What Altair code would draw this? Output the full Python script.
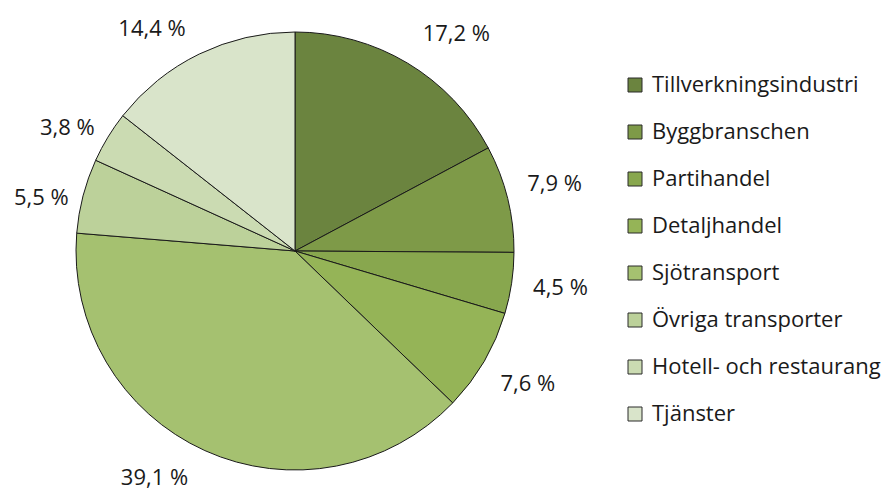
import altair as alt
import pandas as pd

categories = ["Tillverkningsindustri", "Byggbranschen", "Partihandel", "Detaljhandel",
              "Sjötransport", "Övriga transporter", "Hotell- och restaurang", "Tjänster"]
values = [17.2, 7.9, 4.5, 7.6, 39.1, 5.5, 3.8, 14.4]
colors = ["#6B843F", "#7E9A48", "#88A74E", "#95B457", "#A5C170", "#BCD19A", "#CBDBB2", "#D9E4CA"]

df = pd.DataFrame({
    "kategori": categories,
    "andel": values,
    "ordning": list(range(len(categories))),
    "etikett": [f"{v:.1f} %".replace(".", ",") for v in values],
})

FONT = "Open Sans"
FS = 22
CX, CY = 287, 243

base = alt.Chart(df).encode(
    theta=alt.Theta("andel:Q", stack=True),
    order=alt.Order("ordning:Q"),
)

pie = base.mark_arc(outerRadius=219, stroke="#1a1a1a", strokeWidth=1).encode(
    x=alt.value(CX),
    y=alt.value(CY),
    color=alt.Color(
        "kategori:N",
        scale=alt.Scale(domain=categories, range=colors),
        sort=categories,
        legend=alt.Legend(
            title=None,
            orient="none",
            legendX=616,
            legendY=66,
            symbolType="square",
            symbolSize=196,
            symbolStrokeColor="#2a2a2a",
            symbolStrokeWidth=1,
            labelFont=FONT,
            labelFontSize=FS,
            labelColor="#1a1a1a",
            labelLimit=300,
            rowPadding=25,
            labelOffset=6,
        ),
    ),
)


def label_layer(cond, theta_offset=0.0, radius=266):
    return base.transform_calculate(
        lbl=f"({cond}) ? datum.etikett : ''"
    ).mark_text(
        radius=radius, thetaOffset=theta_offset, font=FONT, fontSize=FS, color="#1a1a1a"
    ).encode(
        x=alt.value(CX),
        y=alt.value(CY),
        text="lbl:N",
    )


labels_right = label_layer("datum.andel < 10 && datum.ordning < 4", -0.01, 268)
labels_left = label_layer("datum.andel < 10 && datum.ordning >= 4", -0.05, 259)
labels_a = label_layer("datum.andel >= 15 && datum.andel < 30", 0.10, 270)
labels_b = label_layer("datum.andel >= 10 && datum.andel < 15", -0.12, 264)
labels_c = label_layer("datum.andel >= 30", 0.13, 267)

chart = alt.layer(pie, labels_right, labels_left, labels_a, labels_b, labels_c).properties(
    width=875, height=482, padding=0,
    autosize=alt.AutoSizeParams(type="none"),
    background="white",
).configure_view(stroke=None)

chart.save("out.html", embed_options={"renderer": "svg", "actions": False})
